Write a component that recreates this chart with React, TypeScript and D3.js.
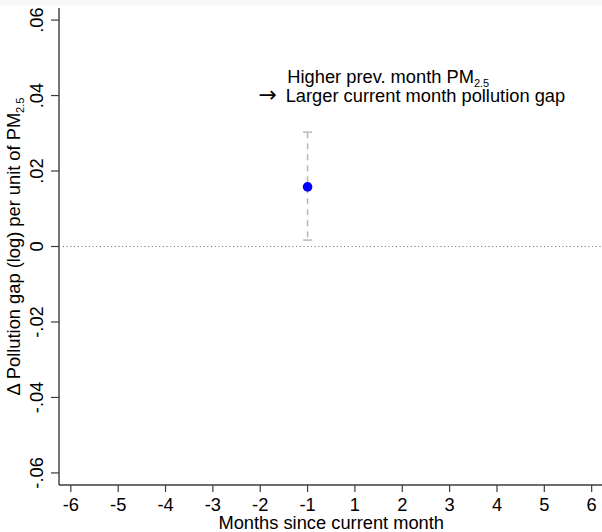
import React from "react";
import * as d3 from "d3";

const months = ["-6", "-5", "-4", "-3", "-2", "-1", "1", "2", "3", "4", "5", "6"];
const pointMonths = ["-1"];
const estimates = [0.0158];
const ciLower = [0.0017];
const ciUpper = [0.0303];
const yTicks = [-0.06, -0.04, -0.02, 0, 0.02, 0.04, 0.06];
const yTickLabels = ["-.06", "-.04", "-.02", "0", ".02", ".04", ".06"];
const yDomain = [-0.0632, 0.0632];

const W = 602;
const H = 532;
const FONT = "'Liberation Sans', Arial, Helvetica, sans-serif";

export default function App() {
  const left = 59;
  const right = 603.5;
  const top = 8;
  const bottom = 485;

  const x = d3.scalePoint<string>().domain(months).range([left, right]).padding(0.25);
  const y = d3.scaleLinear().domain(yDomain).range([bottom, top]);

  const axisColor = "#3c3c3c";
  const fs = 18.3;

  return (
    <div style={{ position: "absolute", left: 0, top: 0 }}>
      <svg width={W} height={H} style={{ display: "block" }} fontFamily={FONT}>
        <rect x={0} y={0} width={W} height={H} fill="#ffffff" />
        <rect x={0} y={0} width={W} height={5} fill="#f8f8f8" />

        {/* zero reference line */}
        <line
          x1={left + 4}
          x2={W}
          y1={y(0)}
          y2={y(0)}
          stroke="#6a6a6a"
          strokeWidth={1}
          strokeDasharray="1,2.7"
        />

        {/* y axis */}
        <line x1={left} x2={left} y1={top} y2={bottom} stroke={axisColor} strokeWidth={1.4} />
        {yTicks.map((t, i) => (
          <g key={"yt" + i}>
            <line x1={left - 8} x2={left} y1={y(t)} y2={y(t)} stroke={axisColor} strokeWidth={1.2} />
            <text
              transform={`translate(43,${y(t)}) rotate(-90)`}
              textAnchor="middle"
              fontSize={fs}
              fill="#000"
            >
              {yTickLabels[i]}
            </text>
          </g>
        ))}

        {/* x axis */}
        <line x1={left} x2={W} y1={bottom} y2={bottom} stroke={axisColor} strokeWidth={1.4} />
        {months.map((m) => (
          <g key={"xt" + m}>
            <line x1={x(m)!} x2={x(m)!} y1={bottom} y2={bottom + 7} stroke={axisColor} strokeWidth={1.2} />
            <text x={x(m)!} y={510.5} textAnchor="middle" fontSize={fs} fill="#000">
              {m}
            </text>
          </g>
        ))}

        {/* axis titles */}
        <text x={(left + right) / 2} y={529} textAnchor="middle" fontSize={fs} fill="#000">
          Months since current month
        </text>
        <text
          transform={`translate(20,${(top + bottom) / 2}) rotate(-90)`}
          textAnchor="middle"
          fontSize={fs}
          fill="#000"
        >
          Δ Pollution gap (log) per unit of PM
          <tspan fontSize={11} dy={4}>2.5</tspan>
        </text>

        {/* confidence intervals */}
        {pointMonths.map((m, i) => {
          const cx = x(m)!;
          return (
            <g key={"ci" + i} stroke="#b8b8b8" strokeWidth={1.5}>
              <line x1={cx} x2={cx} y1={y(ciUpper[i])} y2={y(ciLower[i])} strokeDasharray="6,5" />
              <line x1={cx - 4.5} x2={cx + 4.5} y1={y(ciUpper[i])} y2={y(ciUpper[i])} />
              <line x1={cx - 4.5} x2={cx + 4.5} y1={y(ciLower[i])} y2={y(ciLower[i])} />
            </g>
          );
        })}

        {/* point estimates */}
        {pointMonths.map((m, i) => (
          <circle key={"pt" + i} cx={x(m)!} cy={y(estimates[i])} r={4.8} fill="#0000ff" />
        ))}

        {/* annotation */}
        <text x={287.3} y={83.3} fontSize={fs} fill="#000">
          Higher prev. month PM
          <tspan fontSize={11} dy={4}>2.5</tspan>
        </text>
        <text x={258.5} y={101.7} fontSize={22} fontFamily="'DejaVu Sans', sans-serif" fill="#000">
          →
        </text>
        <text x={285.7} y={101.7} fontSize={fs} fill="#000">
          Larger current month pollution gap
        </text>
      </svg>
    </div>
  );
}
